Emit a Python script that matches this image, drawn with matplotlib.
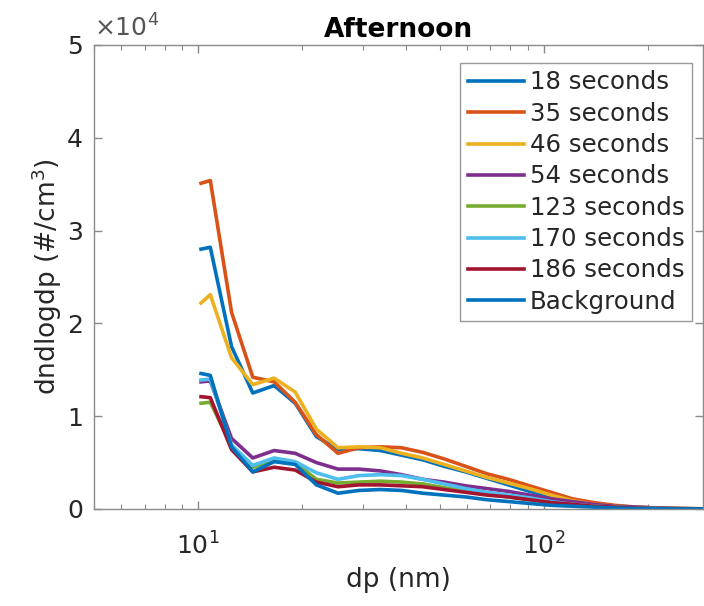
import matplotlib
matplotlib.use("Agg")
import matplotlib.pyplot as plt
from matplotlib.ticker import FuncFormatter, LogLocator, NullFormatter, FixedLocator
import numpy as np

# ---- data (dndlogdp in units of 1e4 #/cm^3) ----
dp = [10.2, 10.85, 12.5, 14.4, 16.6, 19.1, 22.0, 25.4, 29.2, 33.7, 38.8, 44.7,
      51.5, 59.4, 68.5, 79, 91, 105, 121, 139, 160, 185, 213, 246, 288]

s18 = [2.80, 2.82, 1.75, 1.25, 1.33, 1.14, 0.78, 0.64, 0.65, 0.63, 0.58, 0.53,
       0.46, 0.40, 0.33, 0.26, 0.19, 0.13, 0.08, 0.05, 0.03, 0.02, 0.01, 0.005, 0.002]
s35 = [3.51, 3.54, 2.12, 1.42, 1.37, 1.15, 0.80, 0.60, 0.66, 0.67, 0.66, 0.61,
       0.54, 0.46, 0.38, 0.32, 0.25, 0.18, 0.11, 0.07, 0.04, 0.02, 0.01, 0.005, 0.002]
s46 = [2.22, 2.31, 1.63, 1.34, 1.41, 1.26, 0.86, 0.66, 0.67, 0.66, 0.60, 0.55,
       0.48, 0.41, 0.34, 0.28, 0.22, 0.15, 0.09, 0.05, 0.03, 0.02, 0.01, 0.005, 0.002]
s54 = [1.37, 1.38, 0.76, 0.55, 0.63, 0.60, 0.50, 0.43, 0.43, 0.41, 0.37, 0.32,
       0.29, 0.25, 0.22, 0.19, 0.15, 0.11, 0.08, 0.05, 0.03, 0.02, 0.01, 0.004, 0.001]
s123 = [1.14, 1.15, 0.68, 0.45, 0.53, 0.50, 0.32, 0.28, 0.29, 0.30, 0.29, 0.27,
        0.23, 0.19, 0.16, 0.13, 0.10, 0.07, 0.05, 0.03, 0.02, 0.01, 0.005, 0.002, 0.001]
s170 = [1.39, 1.40, 0.69, 0.47, 0.55, 0.51, 0.39, 0.32, 0.36, 0.37, 0.36, 0.32,
        0.27, 0.22, 0.18, 0.15, 0.12, 0.08, 0.05, 0.03, 0.02, 0.01, 0.005, 0.002, 0.001]
s186 = [1.21, 1.20, 0.64, 0.40, 0.45, 0.42, 0.29, 0.24, 0.26, 0.26, 0.25, 0.24,
        0.21, 0.18, 0.15, 0.13, 0.10, 0.07, 0.05, 0.03, 0.02, 0.01, 0.005, 0.002, 0.001]
bg = [1.46, 1.44, 0.67, 0.40, 0.51, 0.48, 0.26, 0.17, 0.20, 0.21, 0.20, 0.17,
      0.15, 0.13, 0.10, 0.08, 0.06, 0.04, 0.03, 0.02, 0.01, 0.005, 0.003, 0.001, 0.0]

labels = ["18 seconds", "35 seconds", "46 seconds", "54 seconds",
          "123 seconds", "170 seconds", "186 seconds", "Background"]
series = [s18, s35, s46, s54, s123, s170, s186, bg]
colors = ["#0072BD", "#D95319", "#EDB120", "#7E2F8E",
          "#77AC30", "#4DBEEE", "#A2142F", "#0072BD"]

scale = 1e4
textc = "#262626"
axc = "#8a8a8a"

fig = plt.figure(figsize=(7.04, 6.06), dpi=100)
ax = fig.add_axes([94/704, 1-509/606, (702.5-94)/704, (509-45)/606])

for s, lab, c in zip(series, labels, colors):
    ax.plot(dp, np.array(s)*scale, color=c, lw=2.6, label=lab)

ax.set_xscale("log")
ax.set_xlim(5, 288)
ax.set_ylim(0, 5e4)
ax.yaxis.set_major_locator(FixedLocator([0, 1e4, 2e4, 3e4, 4e4, 5e4]))
ax.yaxis.set_major_formatter(FuncFormatter(lambda v, p: f"{v/scale:g}"))
ax.xaxis.set_major_locator(LogLocator(base=10))
ax.xaxis.set_minor_locator(LogLocator(base=10, subs=np.arange(2, 10)))
ax.xaxis.set_minor_formatter(NullFormatter())

for sp in ax.spines.values():
    sp.set_color(axc)
    sp.set_linewidth(1.0)
ax.tick_params(which="both", direction="in", top=True, right=True,
               colors=axc, labelcolor=textc, labelsize=18)
ax.tick_params(which="major", length=6, width=1.0)
ax.tick_params(which="minor", length=3.5, width=0.8)
ax.tick_params(axis="x", which="major", pad=17)
ax.tick_params(axis="y", which="major", pad=8)

ax.text(0.0, 1.008, r"$\times10^{4}$", transform=ax.transAxes,
        ha="left", va="bottom", fontsize=18, color="#555555")

ax.set_title("Afternoon", fontsize=19, fontweight="bold", color="black", pad=6)
ax.set_xlabel("dp (nm)", fontsize=19, color=textc, labelpad=5)
ax.set_ylabel(r"dndlogdp (#/cm$^3$)", fontsize=19, color=textc, labelpad=2)

leg = ax.legend(loc="upper right", bbox_to_anchor=(0.983, 0.961),
                borderaxespad=0, fontsize=17.6, frameon=True, fancybox=False,
                framealpha=1, edgecolor="#999999", handlelength=2.3,
                handletextpad=0.25, labelspacing=0.30, borderpad=0.3)
leg.get_frame().set_linewidth(1.0)
for t in leg.get_texts():
    t.set_color(textc)

fig.savefig("out.png", dpi=100, facecolor="white")
